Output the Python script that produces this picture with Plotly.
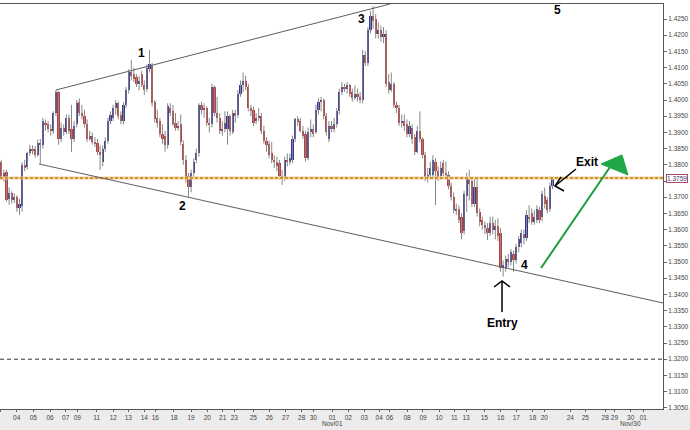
import plotly.graph_objects as go

# ---- price data (in pips, i.e. price * 10000) ----
opens = [13809,13757,13778,13695,13712,13690,13700,13668,13672,13800,
         13792,13835,13850,13848,13830,13868,13860,13930,13925,13910,
         13905,13960,14025,13880,13915,13900,13945,13910,13880,13925,
         13995,13960,13950,13925,13880,13890,13870,13868,13840,13810,
         13850,13875,13935,13945,13975,13990,13955,13935,13985,14030,
         14085,14080,14070,14050,14080,14045,14035,14095,14105,13995,
         13945,13935,13895,13890,13860,13975,13965,13930,13915,13925,
         13865,13815,13765,13730,13775,13815,13835,13985,13970,13975,
         13930,13925,14040,13960,13945,13905,13910,13910,13950,13900,
         13960,13955,14020,14045,14060,14040,13975,13968,13935,13945,
         13950,13905,13875,13865,13835,13815,13810,13805,13765,13760,
         13815,13810,13815,13880,13940,13935,13905,13895,13820,13900,
         13910,13900,13970,13995,14000,13950,13880,13920,13910,13925,
         13965,14025,14040,14035,14045,14025,14005,14020,14010,14000,
         14140,14115,14215,14260,14250,14205,14215,14195,14205,14055,
         14030,14050,13985,13975,13930,13935,13925,13895,13915,13885,
         13840,13905,13880,13830,13760,13770,13770,13810,13780,13765,
         13805,13775,13770,13735,13700,13660,13665,13640,13595,13705,
         13760,13750,13680,13730,13655,13630,13615,13605,13590,13620,
         13600,13610,13590,13480,13480,13510,13500,13525,13505,13545,
         13560,13585,13575,13640,13650,13625,13630,13660,13640,13705,
         13690,13665,13735]
highs = [13815,13785,13784,13730,13718,13712,13706,13695,13808,13815,
         13840,13862,13860,13858,13878,13880,13945,13940,13935,13925,
         13965,14031,14028,13930,13925,13955,13955,13985,13935,14000,
         14005,13985,13970,13940,13905,13900,13885,13880,13860,13860,
         13885,13945,13965,13985,14000,13995,13965,13992,14040,14095,
         14124,14100,14080,14075,14090,14060,14110,14155,14115,14000,
         13970,13945,13925,13905,13990,13990,13985,13960,13935,13955,
         13875,13830,13775,13785,13820,13850,13990,13995,13990,13980,
         13945,14050,14045,14010,13960,13935,13965,13965,13955,13970,
         13970,14030,14060,14085,14075,14050,13985,13980,13960,13975,
         13960,13920,13885,13875,13870,13830,13825,13815,13785,13825,
         13835,13835,13890,13945,13950,13945,13920,13905,13915,13940,
         13925,13985,14005,14010,14005,13960,13935,13935,13945,13975,
         14035,14055,14050,14055,14050,14035,14045,14035,14025,14155,
         14150,14225,14275,14290,14265,14240,14230,14225,14215,14080,
         14085,14055,13995,13985,13955,13955,13940,13935,13925,13895,
         13920,13965,13885,13840,13790,13810,13830,13820,13795,13810,
         13815,13810,13780,13745,13715,13680,13675,13650,13720,13775,
         13784,13760,13760,13760,13665,13640,13625,13620,13640,13640,
         13630,13635,13605,13505,13520,13525,13540,13535,13555,13580,
         13600,13600,13660,13675,13665,13660,13675,13670,13720,13730,
         13700,13745,13762]
lows = [13754,13748,13686,13676,13680,13682,13655,13645,13655,13780,
        13785,13828,13832,13822,13825,13803,13850,13905,13900,13890,
        13895,13950,13862,13870,13890,13895,13895,13840,13870,13915,
        13950,13940,13915,13870,13875,13862,13855,13830,13784,13795,
        13840,13865,13925,13935,13955,13940,13925,13925,13975,14020,
        14060,14055,14040,14030,14040,14015,14025,14085,13980,13930,
        13915,13885,13865,13840,13850,13950,13920,13905,13905,13860,
        13800,13745,13700,13715,13760,13805,13825,13955,13945,13920,
        13900,13915,13950,13930,13895,13890,13900,13862,13890,13895,
        13930,13945,14010,14025,14030,13965,13950,13920,13925,13935,
        13895,13865,13840,13820,13805,13790,13780,13755,13738,13750,
        13795,13800,13805,13870,13920,13900,13880,13810,13815,13885,
        13885,13895,13955,13965,13940,13890,13870,13900,13900,13915,
        13955,14015,14025,14020,14010,13995,14000,13995,13990,13990,
        14105,14105,14205,14220,14190,14190,14180,14175,14040,14020,
        14025,13975,13960,13920,13915,13905,13885,13885,13865,13830,
        13835,13870,13820,13750,13745,13755,13760,13676,13750,13755,
        13765,13755,13725,13690,13650,13645,13620,13570,13585,13655,
        13690,13670,13670,13640,13610,13600,13585,13568,13580,13585,
        13570,13565,13470,13455,13470,13485,13490,13470,13495,13530,
        13545,13555,13565,13620,13615,13615,13620,13620,13625,13665,
        13650,13655,13725]
closes = [13760,13775,13692,13712,13690,13700,13668,13680,13800,13790,
          13835,13850,13845,13830,13868,13860,13935,13925,13910,13905,
          13960,14025,13880,13915,13900,13945,13905,13880,13920,13990,
          13960,13950,13925,13880,13890,13870,13865,13840,13830,13850,
          13875,13935,13955,13975,13990,13950,13935,13985,14030,14085,
          14075,14065,14050,14060,14045,14030,14100,14110,13990,13940,
          13930,13895,13880,13860,13980,13960,13925,13915,13920,13870,
          13815,13760,13730,13775,13810,13835,13985,13970,13975,13930,
          13925,14040,13960,13945,13905,13910,13930,13950,13905,13960,
          13950,14020,14045,14060,14040,13975,13965,13930,13945,13950,
          13905,13875,13860,13830,13815,13810,13795,13765,13760,13815,
          13810,13820,13880,13940,13935,13905,13890,13820,13900,13910,
          13895,13970,13995,14000,13950,13900,13920,13910,13925,13965,
          14025,14040,14035,14045,14020,14005,14020,14010,14000,14140,
          14115,14215,14260,14245,14205,14215,14195,14205,14050,14030,
          14050,13985,13975,13930,13935,13920,13895,13920,13880,13840,
          13905,13880,13830,13760,13770,13790,13815,13780,13760,13790,
          13775,13770,13735,13700,13660,13665,13630,13590,13710,13760,
          13740,13680,13730,13650,13625,13615,13605,13590,13620,13600,
          13610,13580,13480,13490,13510,13500,13530,13505,13545,13570,
          13590,13575,13645,13635,13625,13640,13665,13630,13710,13680,
          13660,13735,13760]

# ---- axis labels ----
x_tick_pos = [-0.49, 5.92, 12.31, 18.73, 24.77, 29.23, 36.69, 43.08, 48.85, 55.0,
              59.23, 66.42, 72.96, 79.23, 85.15, 89.62, 96.92, 103.08, 109.38, 115.54,
              120.0, 127.31, 133.46, 139.62, 145.34, 149.32, 156.04, 162.19, 168.35, 174.23,
              178.73, 185.77, 192.08, 198.08, 204.38, 208.85, 218.85, 224.62, 232.28, 235.84,
              242.08, 246.92]
x_tick_text = ["02", "04", "05", "06", "07", "09", "11", "12", "13", "14",
               "16", "18", "19", "20", "21", "23", "25", "26", "27", "28",
               "30", "01", "02", "03", "04", "06", "08", "09", "10", "11",
               "13", "15", "16", "17", "18", "20", "24", "25", "28", "29",
               "30", "01"]
month_labels = [("Nov/01", 127.31), ("Nov/30", 242.08)]
y_tick_vals = [1.3050, 1.3100, 1.3150, 1.3200, 1.3250, 1.3300, 1.3350, 1.3400, 1.3450,
               1.3500, 1.3550, 1.3600, 1.3650, 1.3700, 1.3750, 1.3800, 1.3850, 1.3900,
               1.3950, 1.4000, 1.4050, 1.4100, 1.4150, 1.4200, 1.4250]
y_tick_text = ["1.3050", "1.3100", "1.3150", "1.3200", "1.3250", "1.3300", "1.3350",
               "1.3400", "1.3450", "1.3500", "1.3550", "1.3600", "1.3650", "1.3700",
               "", "1.3800", "1.3850", "1.3900", "1.3950", "1.4000", "1.4050",
               "1.4100", "1.4150", "1.4200", "1.4250"]

# ---- reference levels / drawing anchors ----
resistance_level = 1.3759
dashed_level = 1.3200
upper_trend = [(21.04, 1.40309), (149.5, 1.42963)]
lower_trend = [(14.5, 1.38025), (254.5, 1.33735)]

PIP = 10000.0
n = len(closes)
idx = list(range(n))
o = [v / PIP for v in opens]
h = [v / PIP for v in highs]
l = [v / PIP for v in lows]
c = [v / PIP for v in closes]

BLUE = "#37379a"
RED = "#c23c3a"
WICK = "#888888"

wx, wy = [], []
for i in idx:
    wx += [i, i, None]
    wy += [l[i], h[i], None]

body_base = [min(o[i], c[i]) for i in idx]
body_h = [max(abs(c[i] - o[i]), 0.00025) for i in idx]
body_col = [BLUE if c[i] >= o[i] else RED for i in idx]

fig = go.Figure()
fig.add_trace(go.Scatter(x=wx, y=wy, mode="lines", line=dict(color=WICK, width=1),
                         hoverinfo="skip", showlegend=False))
fig.add_trace(go.Bar(x=idx, y=body_h, base=body_base, width=0.88,
                     marker=dict(color=body_col, line=dict(width=0)),
                     showlegend=False))

shapes = []
# bottom gray strip
shapes.append(dict(type="rect", xref="paper", yref="paper", x0=0, x1=1.05,
                   y0=-0.06, y1=0, fillcolor="#ececec", line=dict(width=0), layer="below"))
# horizontal levels
shapes.append(dict(type="line", xref="paper", yref="y", x0=0, x1=1,
                   y0=resistance_level, y1=resistance_level,
                   line=dict(color="#f0d49a", width=3)))
shapes.append(dict(type="line", xref="paper", yref="y", x0=0, x1=1,
                   y0=resistance_level, y1=resistance_level,
                   line=dict(color="#c47a18", width=1.5, dash="3px,2px")))
shapes.append(dict(type="line", xref="paper", yref="y", x0=0, x1=1,
                   y0=dashed_level, y1=dashed_level,
                   line=dict(color="#333333", width=1, dash="4px,3px")))
# trendlines
for (p0, p1) in (upper_trend, lower_trend):
    shapes.append(dict(type="line", xref="x", yref="y", x0=p0[0], y0=p0[1], x1=p1[0], y1=p1[1],
                       line=dict(color="#5c5c6a", width=1)))
# green arrow
shapes.append(dict(type="line", xref="x", yref="y", x0=207.58, y0=1.34815, x1=234.12, y1=1.37932,
                   line=dict(color="#1f9c3e", width=2)))
shapes.append(dict(type="path", xref="x", yref="y",
                   path="M 230.65,1.38025 L 238.73,1.38303 L 241.04,1.37685 Z",
                   fillcolor="#1fa845", line=dict(color="#1fa845", width=1)))
# entry arrow
shapes.append(dict(type="line", xref="x", yref="y", x0=192.58, y0=1.33457, x1=192.58, y1=1.34414,
                   line=dict(color="black", width=1.5)))
shapes.append(dict(type="path", xref="x", yref="y",
                   path="M 189.5,1.34228 L 192.58,1.34414 L 195.65,1.34228",
                   line=dict(color="black", width=1.5)))
# exit arrow
shapes.append(dict(type="line", xref="x", yref="y", x0=221.04, y0=1.37870, x1=212.96, y1=1.37346,
                   line=dict(color="black", width=1.5)))
shapes.append(dict(type="path", xref="x", yref="y",
                   path="M 215.27,1.37623 L 212.96,1.37346 L 216.42,1.37191",
                   line=dict(color="black", width=1.5)))

labels = [("1", 53.73, 1.41460), ("2", 69.77, 1.36728), ("3", 138.35, 1.42500),
          ("4", 201.04, 1.34907), ("5", 214.1, 1.42778), ("Exit", 225.27, 1.38086),
          ("Entry", 192.58, 1.33117)]
annotations = []
for txt, ax_, ay_ in labels:
    annotations.append(dict(x=ax_, y=ay_, xref="x", yref="y", text="<b>%s</b>" % txt,
                            showarrow=False,
                            font=dict(family="Liberation Sans, Arial", size=12, color="black")))
annotations.append(dict(x=1, y=resistance_level, xref="paper", yref="y", text="1.3759",
                        showarrow=False, xanchor="left", xshift=3,
                        font=dict(family="Liberation Sans, Arial", size=6.5, color="#3a3a70"),
                        bgcolor="white", bordercolor="#b04a6a", borderwidth=1, borderpad=0))
for txt, xpos in month_labels:
    annotations.append(dict(x=xpos, y=-0.0346, xref="x", yref="paper", text=txt,
                            showarrow=False, yanchor="middle",
                            font=dict(family="Liberation Sans, Arial", size=6.5, color="#444444")))

tick_font = dict(family="Liberation Sans, Arial", size=6.5, color="#444444")
fig.update_layout(
    width=690, height=430,
    margin=dict(l=0, r=27, t=4, b=21, autoexpand=False),
    paper_bgcolor="white", plot_bgcolor="white",
    showlegend=False, bargap=0,
    shapes=shapes, annotations=annotations,
    xaxis=dict(range=[-0.5, 254.5], showgrid=False, zeroline=False, automargin=False,
               showline=True, linecolor="#555555", linewidth=1, mirror=True,
               ticks="outside", ticklen=2, tickcolor="#666666",
               tickmode="array", tickvals=x_tick_pos, ticktext=x_tick_text,
               tickfont=tick_font, tickangle=0),
    yaxis=dict(range=[1.30463, 1.42963], side="right", showgrid=False, zeroline=False,
               automargin=False,
               showline=True, linecolor="#555555", linewidth=1,
               ticks="outside", ticklen=3, tickcolor="#666666",
               tickmode="array", tickvals=y_tick_vals, ticktext=y_tick_text,
               tickfont=tick_font),
)

fig.write_html("out.html", config={"displayModeBar": False},
               post_script="document.body.style.margin='0px';")
